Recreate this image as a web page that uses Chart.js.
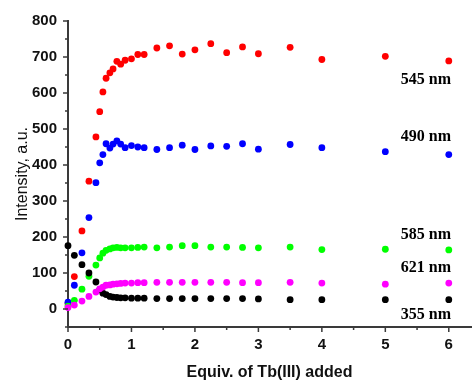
<!DOCTYPE html>
<html>
<head>
<meta charset="utf-8">
<script src="https://cdn.jsdelivr.net/npm/chart.js@4/dist/chart.umd.min.js"></script>
<style>
  html, body { margin: 0; padding: 0; background: #fff; }
  #wrap { width: 475px; height: 382px; }
</style>
</head>
<body>
<div id="wrap"><canvas id="c" width="475" height="382"></canvas></div>
<script>
// Equivalents of Tb(III) added (x for all series)
const equiv = [0, 0.1, 0.22, 0.33, 0.44, 0.5, 0.55, 0.6, 0.66, 0.71, 0.77, 0.83, 0.9, 1.0, 1.1, 1.2, 1.4, 1.6, 1.8, 2.0, 2.25, 2.5, 2.75, 3.0, 3.5, 4, 5, 6];
// Intensity series (a.u.)
const i545 = [15, 90, 217, 355, 478, 548, 603, 641, 656, 667, 688, 680, 691, 695, 707, 707, 725, 731, 708, 720, 737, 712, 728, 709, 727, 693, 702, 689];
const i490 = [19, 66, 156, 254, 351, 406, 429, 459, 447, 458, 467, 458, 448, 454, 450, 448, 443, 448, 455, 443, 453, 452, 459, 444, 457, 448, 437, 429];
const i585 = [8, 24, 55, 91, 122, 142, 155, 163, 167, 170, 171, 170, 170, 170, 171, 172, 170, 172, 176, 176, 172, 172, 171, 170, 172, 165, 166, 164];
const i621 = [4, 11, 22, 35, 47, 56, 61, 66, 67, 69, 70, 71, 72, 72, 73, 73, 74, 74, 74, 74, 74, 74, 73, 73, 74, 72, 69, 72];
const i355 = [176, 149, 123, 100, 75, 54, 44, 40, 35, 33, 32, 31, 31, 30, 30, 30, 29, 29, 29, 29, 29, 29, 29, 28, 26, 26, 26, 26];
// Series labels and their anchor positions (data coords)
const seriesNames = ['545 nm', '490 nm', '585 nm', '621 nm', '355 nm'];
const labelX = [5.64, 5.64, 5.64, 5.64, 5.64];
const labelY = [637, 478, 205, 115, -15];
// Tick labels
const xTicks = [0, 1, 2, 3, 4, 5, 6];
const yTicks = [0, 100, 200, 300, 400, 500, 600, 700, 800];
const xMinor = [0.5, 1.5, 2.5, 3.5, 4.5, 5.5];
const yMinor = [-50, 50, 150, 250, 350, 450, 550, 650, 750];

const colors = ['#ff0000', '#0000ff', '#00ff00', '#ff00ff', '#000000'];
const series = [i545, i490, i585, i621, i355];
const drawOrder = [5, 4, 3, 1, 2];

const datasets = series.map((vals, k) => ({
  label: seriesNames[k],
  data: equiv.map((x, i) => ({ x: x, y: vals[i] })),
  backgroundColor: colors[k],
  borderWidth: 0,
  pointRadius: 3.4,
  pointBorderWidth: 0,
  showLine: false,
  clip: false,
  order: drawOrder[k]
}));

const AXIS = '#3a3a3a';

const tickPlugin = {
  id: 'ticksAndLabels',
  afterDraw(chart) {
    const ctx = chart.ctx;
    const xs = chart.scales.x, ys = chart.scales.y;
    const a = chart.chartArea;
    ctx.save();
    ctx.strokeStyle = AXIS;
    ctx.lineWidth = 1.5;
    ctx.beginPath();
    xTicks.forEach(v => { const p = xs.getPixelForValue(v); ctx.moveTo(p, a.bottom); ctx.lineTo(p, a.bottom + 5); });
    xMinor.forEach(v => { const p = xs.getPixelForValue(v); ctx.moveTo(p, a.bottom); ctx.lineTo(p, a.bottom + 3); });
    yTicks.forEach(v => { const p = ys.getPixelForValue(v); ctx.moveTo(a.left, p); ctx.lineTo(a.left - 5, p); });
    yMinor.forEach(v => { const p = ys.getPixelForValue(v); ctx.moveTo(a.left, p); ctx.lineTo(a.left - 3, p); });
    ctx.stroke();
    ctx.fillStyle = '#000';
    ctx.font = 'bold 16px "Liberation Serif", "Times New Roman", serif';
    ctx.textAlign = 'center';
    ctx.textBaseline = 'middle';
    seriesNames.forEach((n, k) => {
      ctx.fillText(n, xs.getPixelForValue(labelX[k]), ys.getPixelForValue(labelY[k]));
    });
    ctx.restore();
  }
};

new Chart(document.getElementById('c'), {
  type: 'scatter',
  data: { datasets },
  options: {
    responsive: false,
    animation: false,
    events: [],
    layout: { padding: { top: 21, right: 2, left: 0, bottom: 0 } },
    plugins: { legend: { display: false }, tooltip: { enabled: false } },
    scales: {
      x: {
        type: 'linear',
        min: 0, max: 6.35,
        afterBuildTicks: s => { s.ticks = xTicks.map(v => ({ value: v })); },
        afterFit: s => { s.height = 55; },
        grid: { display: true, drawOnChartArea: false, drawTicks: false },
        border: { display: true, color: AXIS, width: 2 },
        ticks: { color: '#111', padding: 9, font: { family: 'Liberation Sans', weight: 'bold', size: 15 } },
        title: { display: true, text: 'Equiv. of Tb(III) added', color: '#111', padding: { top: 0, bottom: 0 }, font: { family: 'Liberation Sans', weight: 'bold', size: 16 } }
      },
      y: {
        type: 'linear',
        min: -50, max: 800,
        afterBuildTicks: s => { s.ticks = yTicks.map(v => ({ value: v })); },
        afterFit: s => { s.width = 68; },
        grid: { display: true, drawOnChartArea: false, drawTicks: false },
        border: { display: true, color: AXIS, width: 2 },
        ticks: { color: '#111', padding: 11, font: { family: 'Liberation Sans', weight: 'bold', size: 15 } },
        title: { display: true, text: 'Intensity, a.u.', color: '#111', padding: { top: 13, bottom: 0 }, font: { family: 'Liberation Sans', size: 16 } }
      }
    }
  },
  plugins: [tickPlugin]
});
</script>
</body>
</html>
